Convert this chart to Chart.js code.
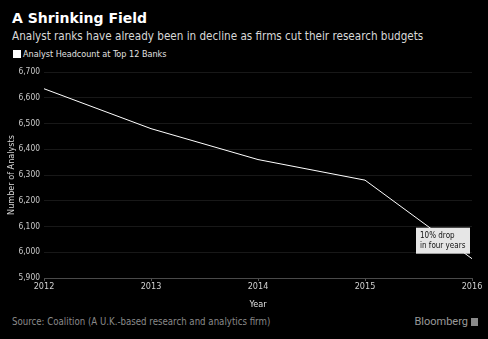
<!DOCTYPE html>
<html>
<head>
<meta charset="utf-8">
<script src="https://cdn.jsdelivr.net/npm/chart.js@4"></script>
<style>
  html, body { margin: 0; padding: 0; background: #000; }
  body { width: 488px; height: 339px; position: relative; overflow: hidden; font-family: "DejaVu Sans Condensed", "DejaVu Sans", sans-serif; color: #fff; }
  .title { position: absolute; left: 12px; top: 10px; font-size: 14px; font-weight: bold; font-family: "DejaVu Sans", sans-serif; }
  .subtitle { position: absolute; left: 12px; top: 29px; font-size: 11.6px; color: #d8d8d8; }
  .legend { position: absolute; left: 13px; top: 49px; font-size: 9px; color: #e0e0e0; }
  .legend span.box { display: inline-block; width: 8px; height: 8px; background: #fff; vertical-align: -1px; margin-right: 2px; }
  .source { position: absolute; left: 12px; top: 316px; font-size: 9.6px; color: #8a8a8a; }
  .brand { position: absolute; right: 10px; top: 315px; font-size: 11px; color: #9a9a9a; font-family: Roboto, "Liberation Sans", sans-serif; }
  .brand span { display: inline-block; width: 7px; height: 8px; background: #8a8a8a; margin-left: 3px; vertical-align: -1px; }
  #wrap { position: absolute; left: 0; top: 58px; width: 488px; height: 252px; }
</style>
</head>
<body>
<div class="title">A Shrinking Field</div>
<div class="subtitle">Analyst ranks have already been in decline as firms cut their research budgets</div>
<div class="legend"><span class="box"></span>Analyst Headcount at Top 12 Banks</div>
<div id="wrap"><canvas id="chart"></canvas></div>
<div class="source">Source: Coalition (A U.K.-based research and analytics firm)</div>
<div class="brand">Bloomberg<span></span></div>
<script>
const years = ['2012', '2013', '2014', '2015', '2016'];
const headcount = [6635, 6480, 6360, 6280, 5975];
const yTicks = [5900, 6000, 6100, 6200, 6300, 6400, 6500, 6600, 6700];
const noteLines = ['10% drop', 'in four years'];

const fontFamily = '"DejaVu Sans Condensed", "DejaVu Sans", sans-serif';

// callout box next to the last point
const callout = {
  id: 'callout',
  afterDatasetsDraw(chart) {
    const pt = chart.getDatasetMeta(0).data[headcount.length - 1];
    const ctx = chart.ctx;
    const w = 54, h = 26;
    const x = pt.x - w - 2, y = pt.y - h - 5;
    ctx.save();
    ctx.fillStyle = '#e6e6e6';
    ctx.fillRect(x, y, w, h);
    ctx.fillStyle = '#111';
    ctx.font = '8px ' + fontFamily;
    ctx.textBaseline = 'top';
    noteLines.forEach((t, i) => ctx.fillText(t, x + 4, y + 4 + i * 10));
    ctx.restore();
  }
};

new Chart(document.getElementById('chart'), {
  type: 'line',
  data: {
    labels: years,
    datasets: [{
      label: 'Analyst Headcount at Top 12 Banks',
      data: headcount,
      borderColor: '#ffffff',
      borderWidth: 1,
      pointRadius: 0,
      tension: 0
    }]
  },
  options: {
    responsive: true,
    maintainAspectRatio: false,
    animation: false,
    layout: { padding: { top: 14, right: 16, left: 0, bottom: 0 } },
    plugins: { legend: { display: false }, tooltip: { enabled: false } },
    scales: {
      x: {
        grid: { drawOnChartArea: false, drawTicks: true, tickLength: 3, color: '#555' },
        border: { color: '#4a4a4a' },
        ticks: { color: '#d0d0d0', font: { family: fontFamily, size: 9 }, maxRotation: 0, padding: 0 },
        title: { display: true, text: 'Year', color: '#e0e0e0', font: { family: fontFamily, size: 9 }, padding: { top: 3, bottom: 0 } },
        afterFit(scale) { scale.height = 32; }
      },
      y: {
        min: yTicks[0],
        max: yTicks[yTicks.length - 1],
        afterBuildTicks(scale) { scale.ticks = yTicks.map(v => ({ value: v })); },
        grid: { color: '#181818', drawTicks: false },
        border: { display: false },
        ticks: {
          color: '#c8c8c8',
          font: { family: fontFamily, size: 8.4 },
          padding: 4,
          callback: v => v.toLocaleString('en-US')
        },
        title: { display: true, text: 'Number of Analysts', color: '#d8d8d8', font: { family: fontFamily, size: 9 }, padding: { top: 6, bottom: 0 } },
        afterFit(scale) { scale.width = 44; }
      }
    }
  },
  plugins: [callout]
});
</script>
</body>
</html>
